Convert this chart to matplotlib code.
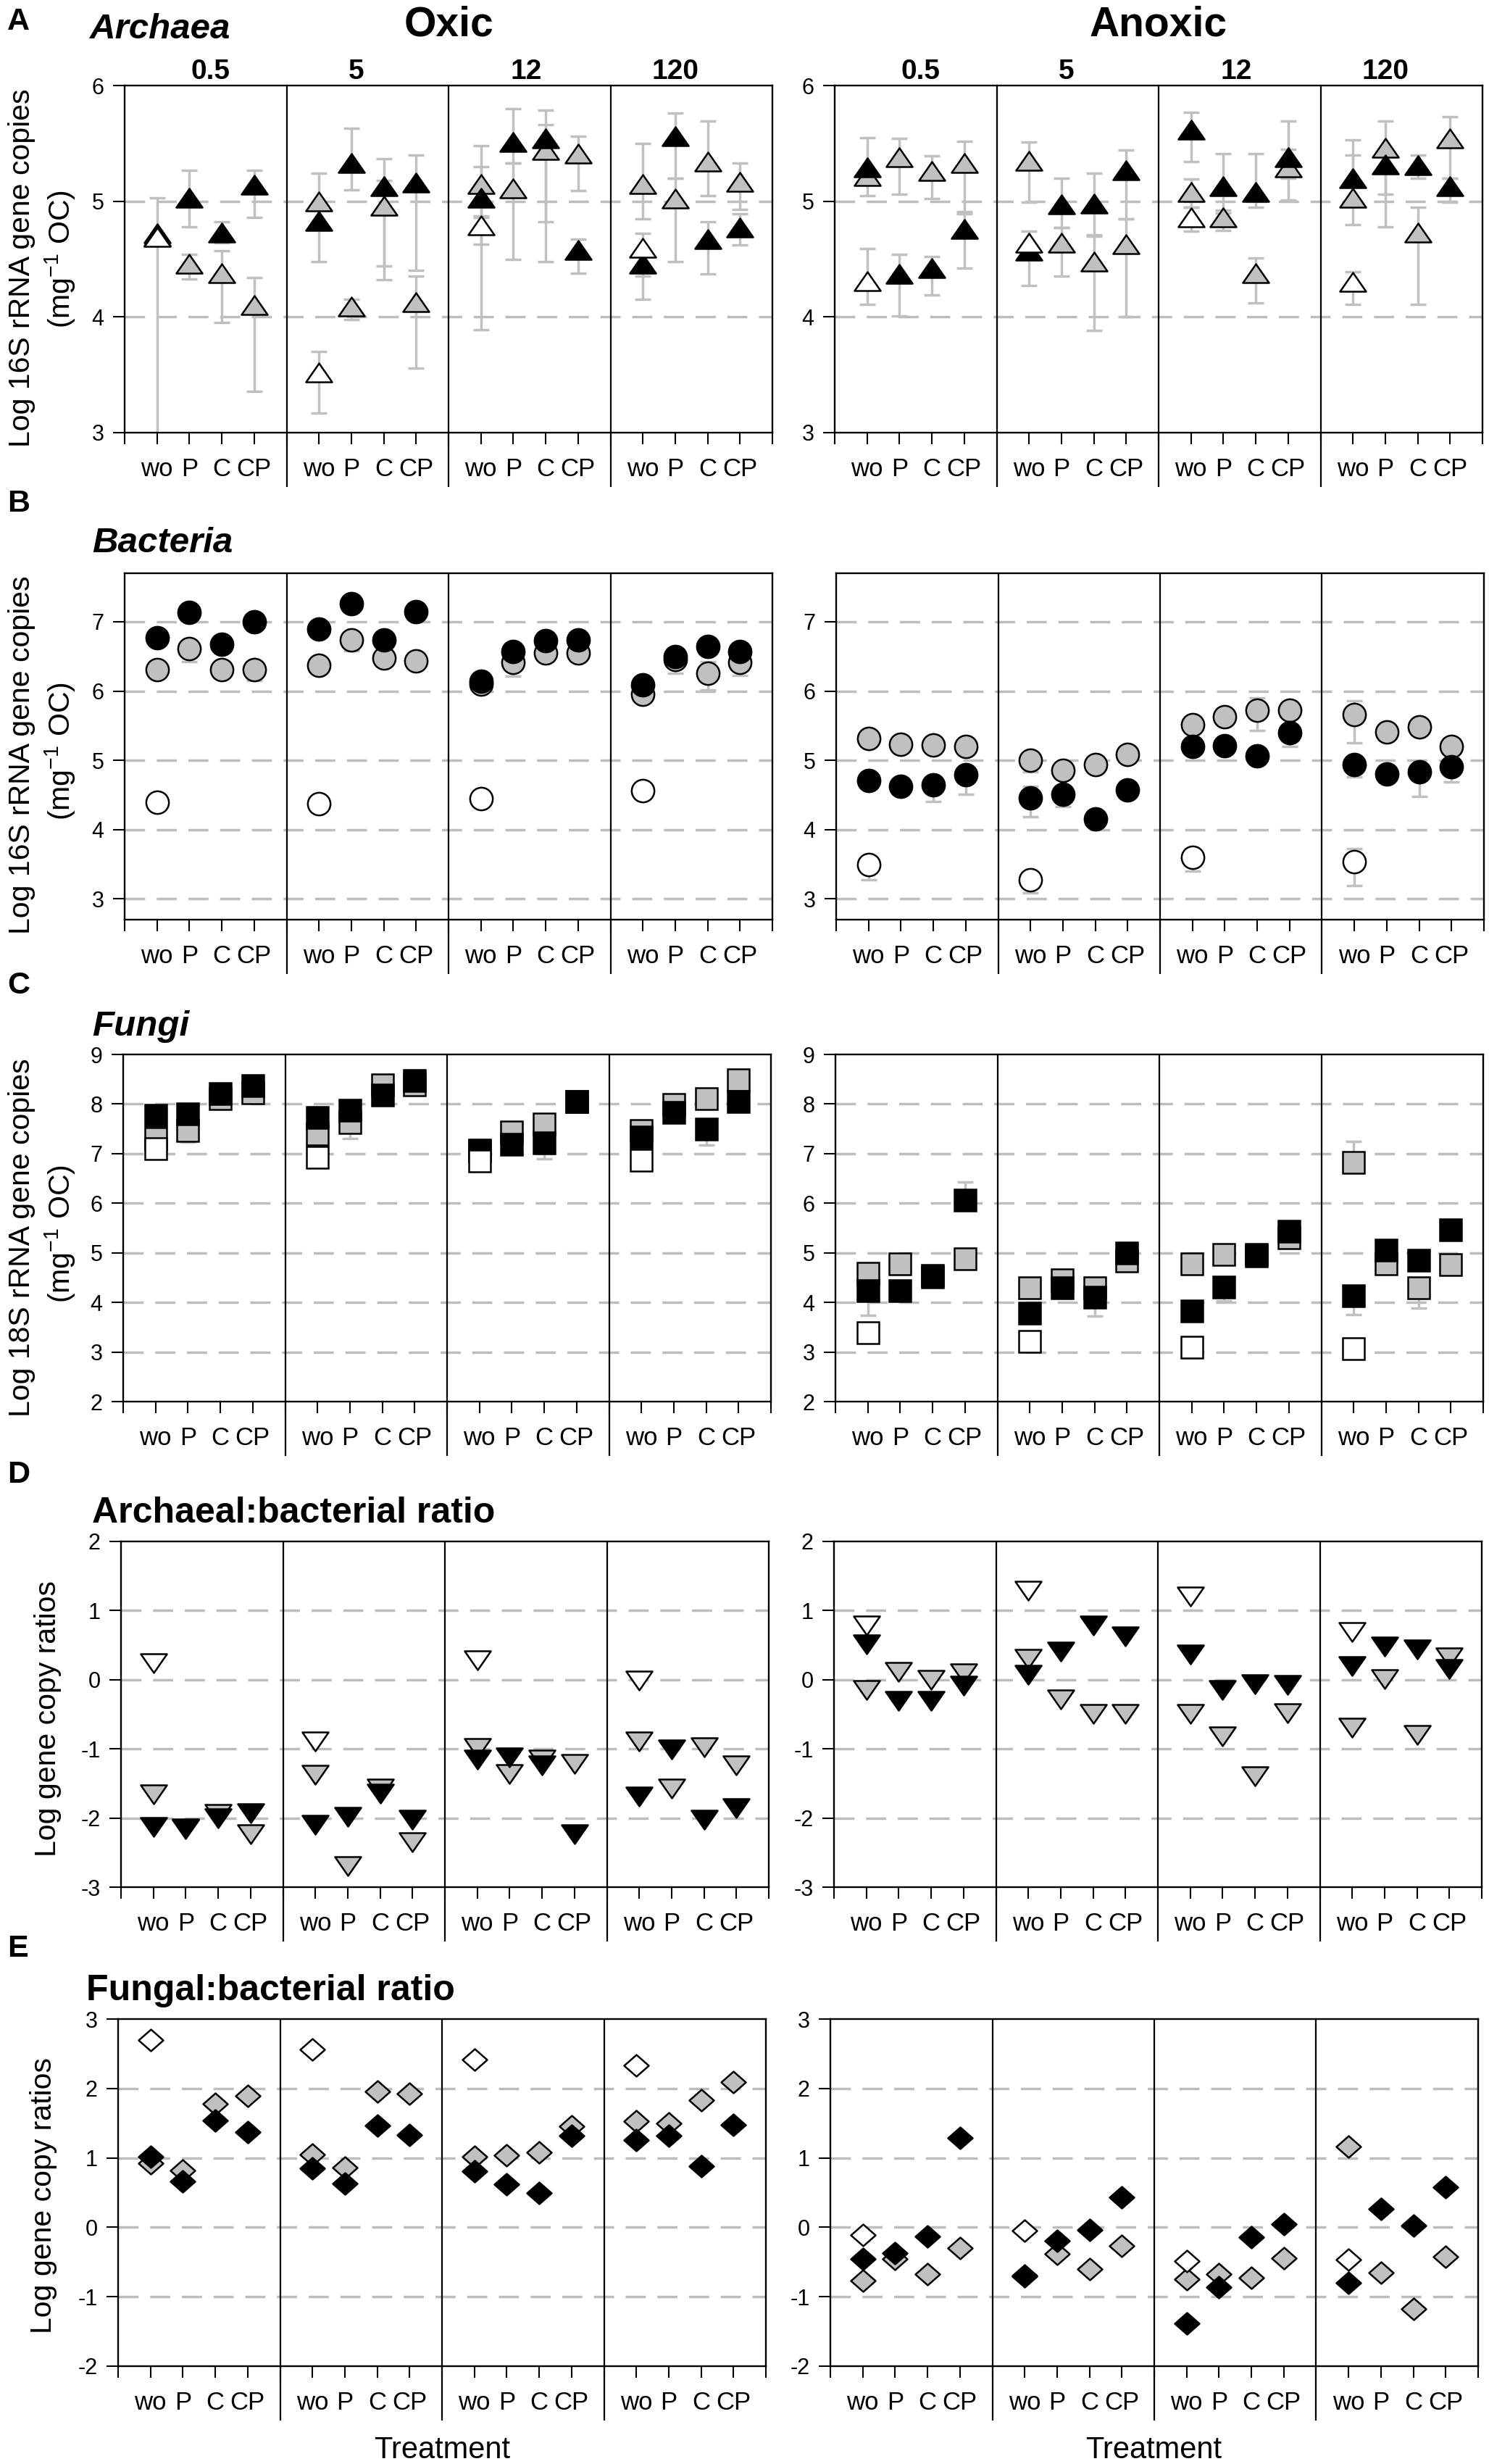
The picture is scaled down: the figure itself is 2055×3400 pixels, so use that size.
import matplotlib
matplotlib.use("Agg")
import numpy as np
import matplotlib.pyplot as plt
from matplotlib.path import Path
from matplotlib.markers import MarkerStyle
import matplotlib.transforms as mtransforms

plt.rcParams['font.family'] = ['Liberation Sans', 'DejaVu Sans']
plt.rcParams['mathtext.fontset'] = 'custom'
plt.rcParams['mathtext.rm'] = 'Liberation Sans'
plt.rcParams['mathtext.it'] = 'Liberation Sans:italic'
plt.rcParams['mathtext.bf'] = 'Liberation Sans:bold'
plt.rcParams['axes.unicode_minus'] = False

# ---------------- data ----------------
TIMES = ['0.5', '5', '12', '120']
TREATMENTS = ['wo', 'P', 'C', 'CP']

# rows = time points (0.5, 5, 12, 120), columns = treatments (wo, P, C, CP)
# A  Archaea
ARC_OX_GRAY = [[4.70, 4.46, 4.38, 4.10], [5.00, 4.09, 4.96, 4.13],
               [5.15, 5.11, 5.44, 5.41], [5.15, 5.02, 5.34, 5.17]]
ARC_OX_BLACK = [[4.72, 5.03, 4.73, 5.14], [4.83, 5.33, 5.13, 5.16],
                [5.03, 5.51, 5.54, 4.58], [4.46, 5.56, 4.67, 4.77]]
ARC_OX_WHITE = [4.69, 3.52, 4.79, 4.60]
ARC_AN_GRAY = [[5.22, 5.38, 5.26, 5.33], [5.35, 4.64, 4.48, 4.63],
               [5.08, 4.86, 4.38, 5.29], [5.03, 5.46, 4.73, 5.54]]
ARC_AN_BLACK = [[5.29, 4.37, 4.42, 4.76], [4.57, 4.97, 4.98, 5.27],
                [5.62, 5.13, 5.08, 5.38], [5.20, 5.32, 5.31, 5.13]]
ARC_AN_WHITE = [4.31, 4.64, 4.86, 4.30]

# error bar ends (low, high)
ARC_OX_GRAY_ERR = [[None, (4.33, 4.54), (3.95, 4.57), (3.36, 4.34)],
                   [(4.48, 5.24), (3.98, 4.15), (4.32, 5.18), (3.56, 4.35)],
                   [(4.63, 5.48), (4.50, 5.33), (4.48, 5.66), (5.09, 5.56)],
                   [(4.85, 5.50), (4.48, 5.20), (5.05, 5.69), (4.93, 5.33)]]
ARC_OX_BLACK_ERR = [[None, (4.78, 5.27), (4.64, 4.82), (4.86, 5.27)],
                    [None, (5.10, 5.63), (4.44, 5.37), (4.40, 5.40)],
                    [(4.87, 5.30), (5.33, 5.80), (4.82, 5.79), (4.38, 4.67)],
                    [(4.15, 4.55), (5.20, 5.76), (4.37, 4.82), (4.62, 4.89)]]
ARC_OX_WHITE_ERR = [(2.90, 5.03), (3.17, 3.70), (3.89, 4.86), (4.35, 4.72)]
ARC_AN_GRAY_ERR = [[None, (5.06, 5.54), (5.02, 5.39), (4.89, 5.52)],
                   [(4.99, 5.51), (4.35, 4.77), (3.88, 4.70), (4.00, 4.85)],
                   [(4.95, 5.19), (4.75, 4.92), (4.12, 4.51), (5.01, 5.45)],
                   [(4.80, 5.53), (5.06, 5.69), (4.11, 4.95), (5.20, 5.73)]]
ARC_AN_BLACK_ERR = [[(5.05, 5.55), (4.01, 4.54), (4.19, 4.52), (4.42, 4.91)],
                    [None, (4.77, 5.20), (4.71, 5.24), (4.85, 5.44)],
                    [(5.34, 5.77), (4.90, 5.41), (4.95, 5.41), (5.20, 5.69)],
                    [(5.00, 5.40), (4.78, 5.45), (5.20, 5.40), (4.99, 5.20)]]
ARC_AN_WHITE_ERR = [(4.11, 4.59), (4.27, 4.74), (4.74, 4.95), (4.11, 4.39)]

# B  Bacteria
BAC_OX_GRAY = [[6.31, 6.61, 6.31, 6.31], [6.37, 6.74, 6.48, 6.43],
               [6.10, 6.41, 6.55, 6.55], [5.95, 6.45, 6.26, 6.41]]
BAC_OX_BLACK = [[6.77, 7.14, 6.67, 7.00], [6.89, 7.26, 6.74, 7.15],
                [6.14, 6.57, 6.73, 6.74], [6.09, 6.50, 6.64, 6.57]]
BAC_OX_WHITE = [4.39, 4.37, 4.45, 4.56]
BAC_AN_GRAY = [[5.31, 5.23, 5.22, 5.20], [5.00, 4.85, 4.94, 5.08],
               [5.51, 5.63, 5.72, 5.72], [5.66, 5.41, 5.48, 5.20]]
BAC_AN_BLACK = [[4.71, 4.62, 4.65, 4.79], [4.46, 4.51, 4.15, 4.57],
                [5.20, 5.21, 5.06, 5.40], [4.94, 4.80, 4.83, 4.91]]
BAC_AN_WHITE = [3.49, 3.28, 3.60, 3.54]

BAC_OX_GRAY_ERR = [[None, (6.42, 6.61), None, (6.15, 6.31)],
                   [None, (6.58, 6.74), None, None],
                   [None, (6.21, 6.41), None, None],
                   [None, (6.26, 6.56), (6.02, 6.42), (6.22, 6.41)]]
BAC_AN_GRAY_ERR = [[None, None, None, None],
                   [(4.83, 5.00), None, None, None],
                   [None, None, (5.43, 5.90), None],
                   [(5.25, 5.86), None, None, None]]
BAC_AN_BLACK_ERR = [[None, None, (4.41, 4.65), (4.51, 4.79)],
                    [(4.19, 4.62), (4.33, 4.51), None, None],
                    [None, None, None, (5.20, 5.40)],
                    [(4.76, 4.94), None, (4.48, 4.83), (4.69, 4.91)]]
BAC_AN_WHITE_ERR = [(3.28, 3.49), (3.09, 3.28), (3.40, 3.60), (3.19, 3.73)]

# C  Fungi
FUN_OX_GRAY = [[7.30, 7.46, 8.11, 8.22], [7.39, 7.62, 8.39, 8.38],
               [7.07, 7.43, 7.60, 8.05], [7.46, 7.99, 8.11, 8.49]]
FUN_OX_BLACK = [[7.77, 7.80, 8.21, 8.37], [7.73, 7.87, 8.18, 8.47],
                [7.05, 7.19, 7.21, 8.05], [7.34, 7.83, 7.49, 8.05]]
FUN_OX_WHITE = [7.10, 6.92, 6.85, 6.87]
FUN_AN_GRAY = [[4.58, 4.78, 4.55, 4.88], [4.29, 4.45, 4.30, 4.83],
               [4.78, 4.96, 4.97, 5.30], [6.82, 4.77, 4.30, 4.76]]
FUN_AN_BLACK = [[4.24, 4.23, 4.52, 6.06], [3.79, 4.30, 4.11, 5.00],
                [3.82, 4.31, 4.94, 5.44], [4.14, 5.06, 4.85, 5.47]]
FUN_AN_WHITE = [3.39, 3.22, 3.09, 3.06]

FUN_OX_GRAY_ERR = [[None, (7.23, 7.46), None, None],
                   [None, (7.30, 7.62), None, None],
                   [None, None, None, None],
                   [None, None, None, None]]
FUN_OX_BLACK_ERR = [[None, None, None, None],
                    [None, None, None, None],
                    [None, None, (6.89, 7.21), None],
                    [None, None, (7.17, 7.49), None]]
FUN_AN_GRAY_ERR = [[None, None, None, None],
                   [None, None, None, None],
                   [None, None, None, None],
                   [(6.82, 7.24), None, (3.89, 4.30), None]]
FUN_AN_BLACK_ERR = [[(3.74, 4.24), None, None, (6.06, 6.43)],
                    [None, None, (3.73, 4.11), None],
                    [None, (4.03, 4.31), None, None],
                    [(3.75, 4.14), None, None, None]]

# D  Archaeal:bacterial ratio
AB_OX_GRAY = [[-1.66, -2.15, -1.94, -2.24], [-1.38, -2.70, -1.57, -2.35],
              [-0.99, -1.36, -1.16, -1.22], [-0.89, -1.57, -0.98, -1.24]]
AB_OX_BLACK = [[-2.13, -2.16, -2.00, -1.93], [-2.10, -1.98, -1.65, -2.03],
               [-1.16, -1.12, -1.24, -2.24], [-1.69, -1.01, -2.03, -1.86]]
AB_OX_WHITE = [0.24, -0.89, 0.28, -0.01]
AB_AN_GRAY = [[-0.15, 0.11, 0.00, 0.09], [0.30, -0.28, -0.49, -0.49],
              [-0.49, -0.82, -1.40, -0.48], [-0.69, 0.01, -0.80, 0.32]]
AB_AN_BLACK = [[0.51, -0.31, -0.31, -0.09], [0.07, 0.41, 0.78, 0.63],
               [0.36, -0.15, -0.06, -0.08], [0.20, 0.48, 0.44, 0.16]]
AB_AN_WHITE = [0.78, 1.29, 1.20, 0.69]

# E  Fungal:bacterial ratio
FB_OX_GRAY = [[0.92, 0.82, 1.78, 1.89], [1.05, 0.86, 1.96, 1.92],
              [1.02, 1.04, 1.08, 1.45], [1.53, 1.50, 1.83, 2.09]]
FB_OX_BLACK = [[1.02, 0.66, 1.54, 1.37], [0.85, 0.63, 1.47, 1.33],
               [0.81, 0.62, 0.49, 1.32], [1.26, 1.32, 0.88, 1.48]]
FB_OX_WHITE = [2.70, 2.56, 2.42, 2.33]
FB_AN_GRAY = [[-0.77, -0.45, -0.67, -0.30], [-0.71, -0.38, -0.60, -0.27],
              [-0.75, -0.67, -0.73, -0.44], [1.16, -0.65, -1.18, -0.42]]
FB_AN_BLACK = [[-0.46, -0.37, -0.13, 1.29], [-0.69, -0.19, -0.04, 0.43],
               [-1.38, -0.86, -0.14, 0.05], [-0.80, 0.26, 0.02, 0.58]]
FB_AN_WHITE = [-0.11, -0.05, -0.49, -0.47]

# ---------------- styling ----------------
W, H = 2055, 3400
PX = 72.0 / 100.0          # pixels -> points at dpi 100
GRAY = '#c0c0c0'
ERR_C = '#c0c0c0'
GRID_C = '#bdbdbd'

TRI_UP = MarkerStyle(Path([(0, 0.72), (1, -0.72), (-1, -0.72), (0, 0.72)], closed=True), joinstyle='miter')
TRI_DN = MarkerStyle(Path([(0, -0.72), (1, 0.72), (-1, 0.72), (0, -0.72)], closed=True), joinstyle='miter')
DIAM = MarkerStyle(Path([(0, 0.88), (1, 0), (0, -0.88), (-1, 0), (0, 0.88)], closed=True), joinstyle='miter')
SQUARE = MarkerStyle('s', joinstyle='miter')

fig = plt.figure(figsize=(W / 100, H / 100), dpi=100)


def ftext(x, y, s, **kw):
    return fig.text(x / W, 1 - y / H, s, **kw)


def make_ax(left, top, bot, width=894):
    return fig.add_axes([left / W, 1 - bot / H, width / W, (bot - top) / H])


def draw_errs(ax, vals_x, errs, vals_y):
    for xv, e, yv in zip(vals_x, errs, vals_y):
        if e is None:
            continue
        lo, hi = e
        ax.errorbar([xv], [yv], yerr=[[yv - lo], [hi - yv]], fmt='none',
                    ecolor=ERR_C, elinewidth=2.5, capsize=11 * PX,
                    capthick=2.5, zorder=2)


def draw_panel(ax, gray, black, white, marker, ms, ylim, yticks, zorders,
               gray_err=None, black_err=None, white_err=None):
    ax.set_xlim(0, 20)
    ax.set_ylim(*ylim)
    for g in yticks:
        if ylim[0] < g < ylim[1]:
            ax.axhline(g, color=GRID_C, lw=2.5, dashes=(8.0, 4.6), zorder=1)
    xs = [5 * t + j + 1 for t in range(4) for j in range(4)]
    g_flat = [v for row in gray for v in row]
    b_flat = [v for row in black for v in row]
    xw = [5 * t + 1 for t in range(4)]
    if gray_err is not None:
        draw_errs(ax, xs, [e for row in gray_err for e in row], g_flat)
    if black_err is not None:
        draw_errs(ax, xs, [e for row in black_err for e in row], b_flat)
    if white_err is not None:
        draw_errs(ax, xw, white_err, white)
    zg, zb, zw = zorders
    ax.plot(xs, g_flat, ls='none', marker=marker, ms=ms, mfc=GRAY, mec='black',
            mew=1.8, zorder=zg)
    ax.plot(xs, b_flat, ls='none', marker=marker, ms=ms, mfc='black', mec='black',
            mew=1.8, zorder=zb)
    ax.plot(xw, white, ls='none', marker=marker, ms=ms, mfc='white', mec='black',
            mew=1.8, zorder=zw)
    for sp in ax.spines.values():
        sp.set_linewidth(1.7)
        sp.set_zorder(6)
    trans = mtransforms.blended_transform_factory(ax.transData, ax.transAxes)
    h_px = ax.get_position().height * H
    for xb in (5, 10, 15):
        ax.plot([xb, xb], [-75.0 / h_px, 1.0], color='black', lw=1.6,
                transform=trans, clip_on=False, zorder=6, solid_capstyle='butt')
    ax.set_xticks(xs)
    ax.set_xticklabels(TREATMENTS * 4)
    ax.set_xticks([0, 5, 10, 15, 20], minor=True)
    ax.tick_params(axis='x', which='both', direction='out', length=16 * PX,
                   width=1.5, pad=13, labelsize=25, top=False, bottom=True)
    ax.set_yticks(yticks)
    ax.set_yticklabels([str(v) for v in yticks])
    ax.tick_params(axis='y', direction='out', length=16 * PX, width=1.5, pad=9,
                   labelsize=22, right=False)


ROWS = [
    dict(top=118, bot=597, ox=172, an=1152, ylim=(3, 6), yt=[3, 4, 5, 6],
         data=(ARC_OX_GRAY, ARC_OX_BLACK, ARC_OX_WHITE, ARC_AN_GRAY, ARC_AN_BLACK, ARC_AN_WHITE),
         errs=((ARC_OX_GRAY_ERR, ARC_OX_BLACK_ERR, ARC_OX_WHITE_ERR),
               (ARC_AN_GRAY_ERR, ARC_AN_BLACK_ERR, ARC_AN_WHITE_ERR)),
         marker=TRI_UP, ms=26, z=(3, 4, 5)),
    dict(top=791, bot=1269, ox=172, an=1154, ylim=(2.7, 7.7), yt=[3, 4, 5, 6, 7],
         data=(BAC_OX_GRAY, BAC_OX_BLACK, BAC_OX_WHITE, BAC_AN_GRAY, BAC_AN_BLACK, BAC_AN_WHITE),
         errs=((BAC_OX_GRAY_ERR, None, None),
               (BAC_AN_GRAY_ERR, BAC_AN_BLACK_ERR, BAC_AN_WHITE_ERR)),
         marker='o', ms=22.5, z=(3, 4, 5)),
    dict(top=1455, bot=1934, ox=170, an=1153, ylim=(2, 9), yt=[2, 3, 4, 5, 6, 7, 8, 9],
         data=(FUN_OX_GRAY, FUN_OX_BLACK, FUN_OX_WHITE, FUN_AN_GRAY, FUN_AN_BLACK, FUN_AN_WHITE),
         errs=((FUN_OX_GRAY_ERR, FUN_OX_BLACK_ERR, None),
               (FUN_AN_GRAY_ERR, FUN_AN_BLACK_ERR, None)),
         marker=SQUARE, ms=21.5, z=(3, 4, 5)),
    dict(top=2127, bot=2604, ox=167, an=1151, ylim=(-3, 2), yt=[-3, -2, -1, 0, 1, 2],
         data=(AB_OX_GRAY, AB_OX_BLACK, AB_OX_WHITE, AB_AN_GRAY, AB_AN_BLACK, AB_AN_WHITE),
         errs=((None, None, None), (None, None, None)),
         marker=TRI_DN, ms=26, z=(3, 5, 4)),
    dict(top=2786, bot=3265, ox=163, an=1146, ylim=(-2, 3), yt=[-2, -1, 0, 1, 2, 3],
         data=(FB_OX_GRAY, FB_OX_BLACK, FB_OX_WHITE, FB_AN_GRAY, FB_AN_BLACK, FB_AN_WHITE),
         errs=((None, None, None), (None, None, None)),
         marker=DIAM, ms=24.5, z=(3, 5, 4)),
]

for r in ROWS:
    d = r['data']
    ax_o = make_ax(r['ox'], r['top'], r['bot'])
    draw_panel(ax_o, d[0], d[1], d[2], r['marker'], r['ms'], r['ylim'], r['yt'], r['z'],
               *r['errs'][0])
    ax_a = make_ax(r['an'], r['top'], r['bot'])
    draw_panel(ax_a, d[3], d[4], d[5], r['marker'], r['ms'], r['ylim'], r['yt'], r['z'],
               *r['errs'][1])

# ---------------- texts ----------------
BOLD = dict(fontweight='bold')
# panel letters
for letter, yb in zip('ABCDE', [41, 706, 1371, 2046, 2700]):
    ftext(10, yb, letter, fontsize=31, va='baseline', ha='left', **BOLD)

# condition headers
ftext(619, 49, 'Oxic', fontsize=41, ha='center', va='baseline', **BOLD)
ftext(1599, 49, 'Anoxic', fontsize=41, ha='center', va='baseline', **BOLD)

# time headers
TITLE_X = [2.65, 7.15, 12.4, 17.0]
for left in (ROWS[0]['ox'], ROWS[0]['an']):
    for tx, lab in zip(TITLE_X, TIMES):
        ftext(left + tx * 894 / 20, 109, lab, fontsize=28, ha='center', va='baseline', **BOLD)

# row titles
ITB = dict(fontweight='bold', fontstyle='italic', ha='left', va='baseline', fontsize=35.5)
ftext(123, 53, 'Archaea', **ITB)
ftext(127, 762, 'Bacteria', **ITB)
ftext(127, 1429, 'Fungi', **ITB)
ftext(127, 2101, 'Archaeal:bacterial ratio', fontsize=36, ha='left', va='baseline', **BOLD)
ftext(119, 2760, 'Fungal:bacterial ratio', fontsize=36, ha='left', va='baseline', **BOLD)

# y labels
YL = dict(fontsize=29.5, rotation=90, ha='center', va='center')
ftext(30, 370, 'Log 16S rRNA gene copies', **YL)
ftext(83, 358, '(mg$^{-1}$ OC)', **YL)
ftext(30, 1042, 'Log 16S rRNA gene copies', **YL)
ftext(83, 1037, '(mg$^{-1}$ OC)', **YL)
ftext(30, 1708, 'Log 18S rRNA gene copies', **YL)
ftext(83, 1703, '(mg$^{-1}$ OC)', **YL)
ftext(66, 2371, 'Log gene copy ratios', **YL)
ftext(60, 3030, 'Log gene copy ratios', **YL)

# x labels
ftext(610, 3392, 'Treatment', fontsize=30, ha='center', va='baseline')
ftext(1592, 3392, 'Treatment', fontsize=30, ha='center', va='baseline')

fig.savefig('out.png', dpi=100)
